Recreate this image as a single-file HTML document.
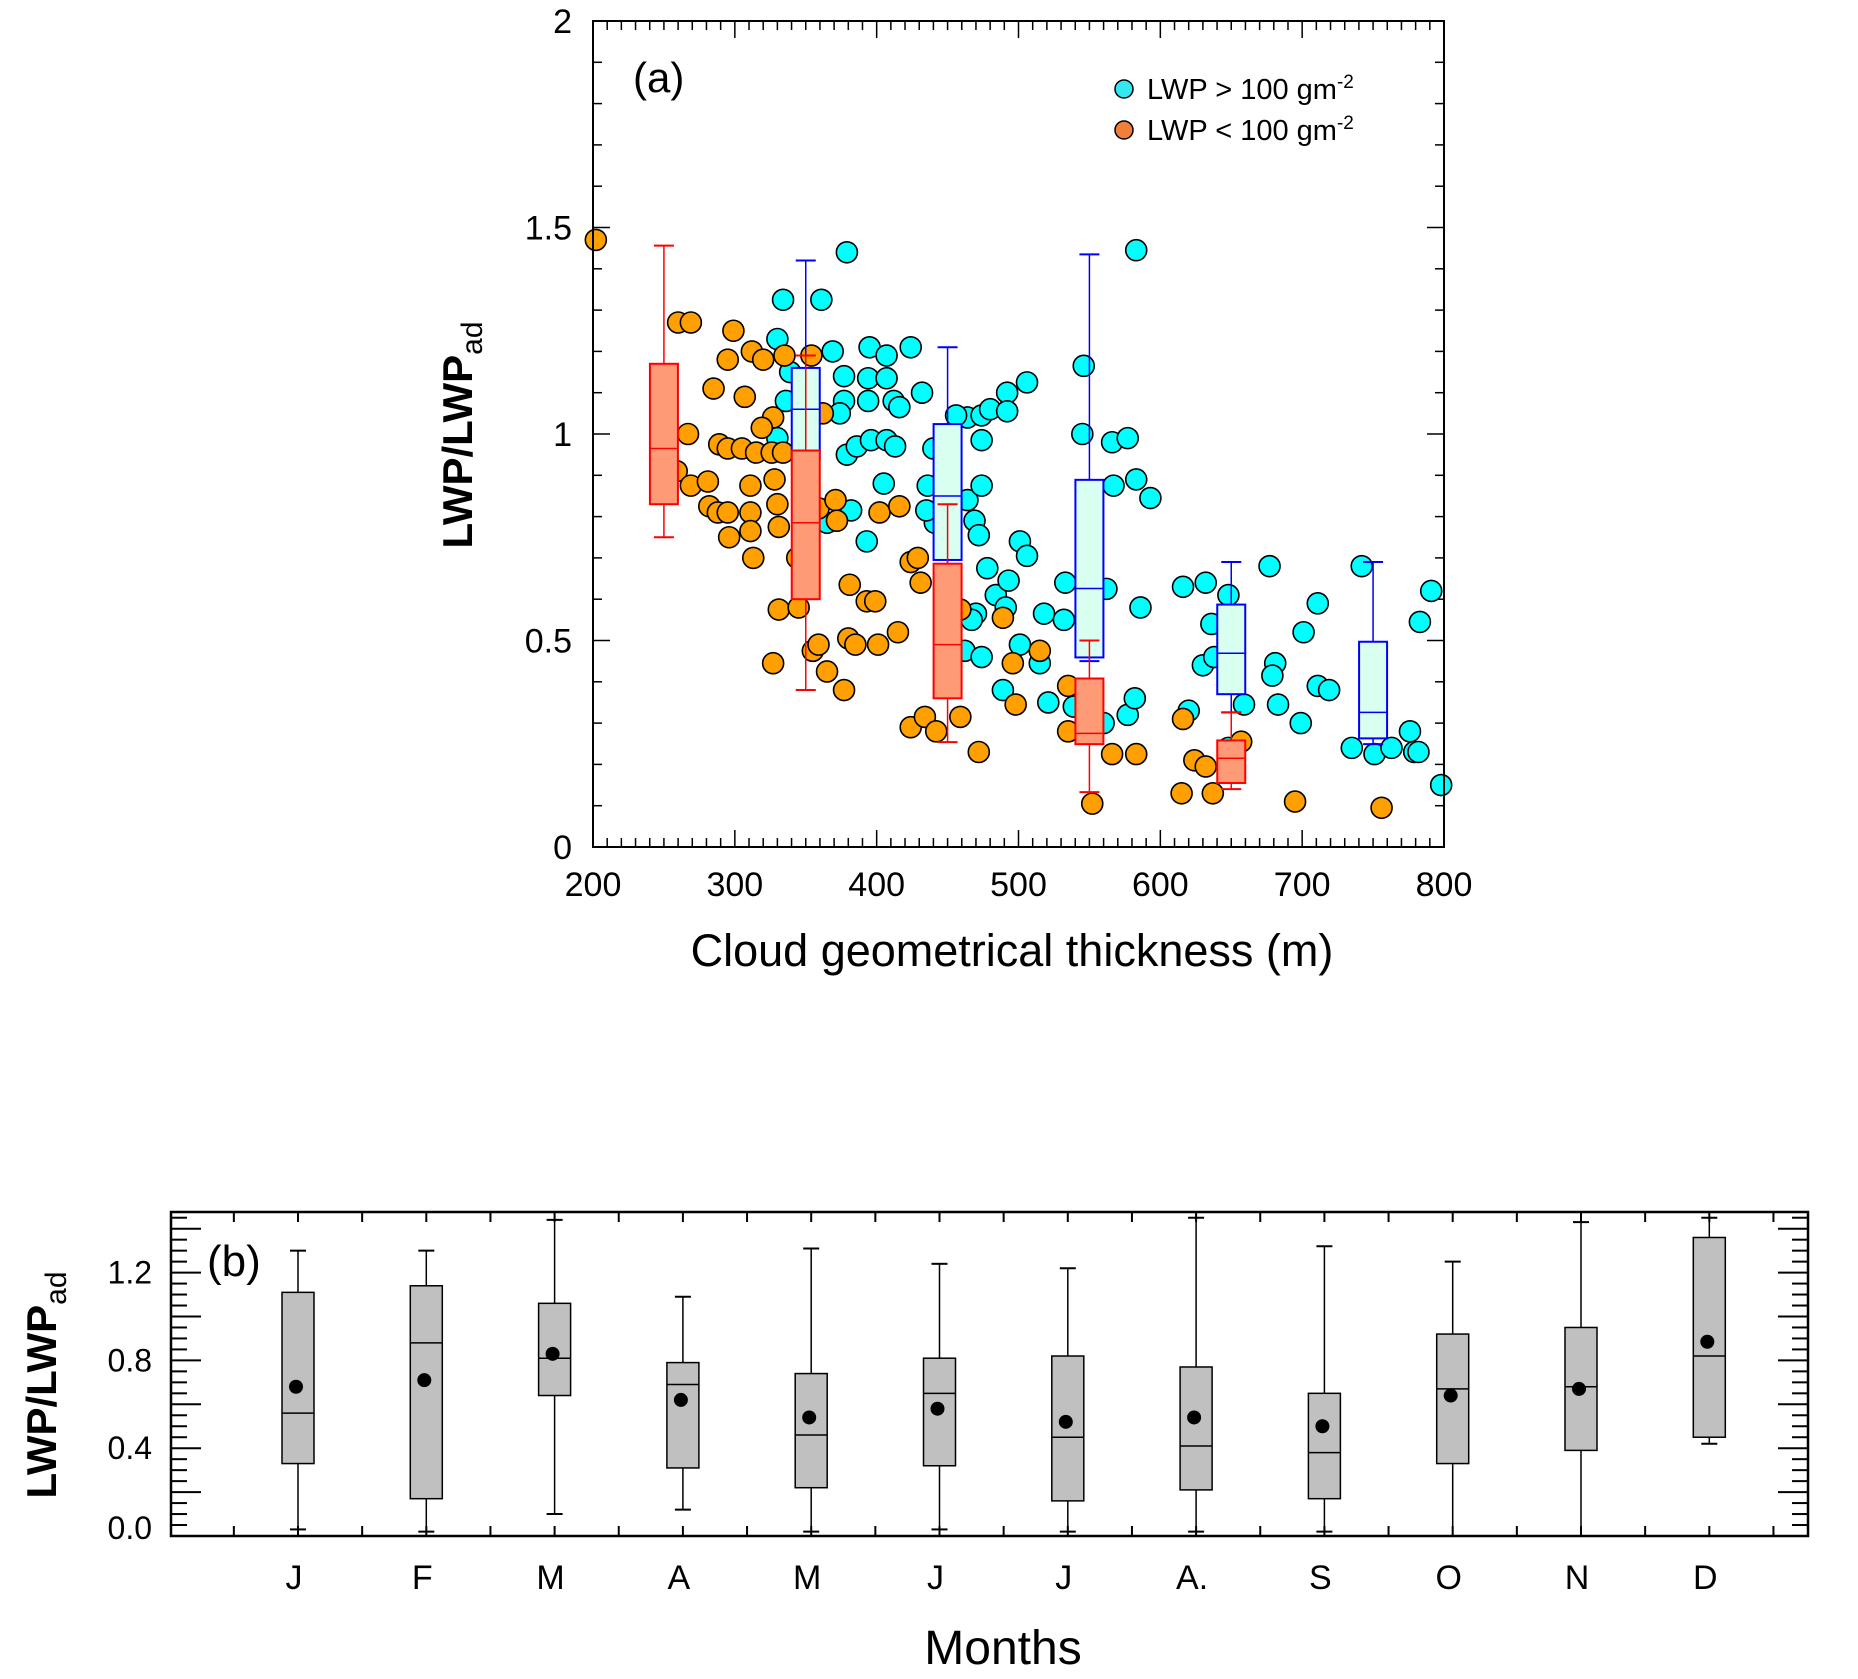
<!DOCTYPE html>
<html><head><meta charset="utf-8"><style>
html,body{margin:0;padding:0;background:#fff;}
svg{display:block;font-family:"Liberation Sans",sans-serif;}
</style></head><body>
<svg id="chart" width="1858" height="1679" viewBox="0 0 1858 1679" xmlns="http://www.w3.org/2000/svg">
<g id="pa"></g>
<g id="pb"></g>
</svg>
<script>
// ---------- Panel (a) data ----------
const cyanX=[334,361,379,330,339,336,369,377,395,407,424,394,407,432,377,394,374,412,416,330,379,386,396,407,413,405,440,382,393,365,474,464,474,480,492,492,506,436,441,435,464,469,474,472,478,484,491,493,501,506,470,462,467,474,501,515,518,532,533,489,521,539,546,545,566,577,567,583,593,583,562,586,560,577,582,616,632,648,636,620,630,638,648,659,677,681,679,683,699,701,711,711,719,742,735,751,763,776,779,782,783,791,798,456];
const cyanY=[1.325,1.325,1.44,1.23,1.15,1.08,1.2,1.14,1.21,1.19,1.21,1.135,1.135,1.10,1.08,1.08,1.05,1.08,1.065,0.99,0.95,0.97,0.985,0.985,0.97,0.88,0.965,0.815,0.74,0.785,0.985,1.04,1.045,1.06,1.10,1.055,1.125,0.875,0.785,0.815,0.84,0.79,0.875,0.755,0.675,0.61,0.58,0.645,0.74,0.705,0.565,0.475,0.55,0.46,0.49,0.445,0.565,0.55,0.64,0.38,0.35,0.34,1.165,1.0,0.98,0.99,0.875,0.89,0.845,1.445,0.625,0.58,0.30,0.32,0.36,0.63,0.64,0.61,0.54,0.33,0.44,0.46,0.24,0.345,0.68,0.445,0.415,0.345,0.30,0.52,0.59,0.39,0.38,0.68,0.24,0.225,0.24,0.28,0.23,0.23,0.545,0.62,0.15,1.045];
const orangeX=[202,260,269,299,285,295,267,259,269,281,289,295,282,288,295,296,305,315,307,312,320,327,319,326,328,330,311,311,311,313,331,331,327,335,334,344,345,354,362,359,371,372,355,359,365,377,381,380,385,393,399,401,402,415,416,424,429,431,424,434,442,459,472,459,489,496,498,515,535,535,552,566,583,615,616,624,632,637,657,695,756];
const orangeY=[1.47,1.27,1.27,1.25,1.11,1.18,1.0,0.91,0.875,0.885,0.975,0.965,0.825,0.81,0.81,0.75,0.965,0.955,1.09,1.2,1.18,1.04,1.015,0.955,0.89,0.83,0.875,0.81,0.765,0.70,0.775,0.575,0.445,1.19,0.955,0.70,0.58,1.19,1.05,0.82,0.84,0.79,0.475,0.49,0.425,0.38,0.635,0.505,0.49,0.595,0.595,0.49,0.81,0.52,0.825,0.69,0.70,0.64,0.29,0.315,0.28,0.315,0.23,0.575,0.555,0.445,0.345,0.475,0.39,0.28,0.105,0.225,0.225,0.13,0.31,0.21,0.195,0.13,0.255,0.11,0.095];
const blueBoxX=[350,450,550,650,750];
const blueLow=[0.80,0.68,0.45,0.326,0.249];
const blueQ1=[0.94,0.695,0.459,0.37,0.263];
const blueMed=[1.06,0.85,0.626,0.469,0.326];
const blueQ3=[1.16,1.024,0.889,0.587,0.497];
const blueHigh=[1.42,1.21,1.435,0.69,0.69];
const redBoxX=[250,350,450,550,650];
const redLow=[0.75,0.38,0.254,0.133,0.14];
const redQ1=[0.83,0.60,0.36,0.249,0.155];
const redMed=[0.965,0.785,0.49,0.275,0.215];
const redQ3=[1.17,0.96,0.686,0.408,0.258];
const redHigh=[1.456,1.19,0.83,0.50,0.326];
const xTicksA=[200,300,400,500,600,700,800];
const yTicksA=[0,0.5,1,1.5,2];
const yTickLabelsA=["0","0.5","1","1.5","2"];

// ---------- Panel (b) data ----------
const months=["J","F","M","A","M","J","J","A.","S","O","N","D"];
const mLow=[0.03,0.02,0.1,0.12,0.02,0.03,0.02,0.02,0.02,0.0,0.0,0.42];
const mQ1=[0.33,0.17,0.64,0.31,0.22,0.32,0.16,0.21,0.17,0.33,0.39,0.45];
const mMed=[0.56,0.88,0.81,0.69,0.46,0.65,0.45,0.41,0.38,0.67,0.68,0.82];
const mQ3=[1.11,1.14,1.06,0.79,0.74,0.81,0.82,0.77,0.65,0.92,0.95,1.36];
const mHigh=[1.30,1.30,1.44,1.09,1.31,1.24,1.22,1.45,1.32,1.25,1.43,1.45];
const mMean=[0.68,0.71,0.83,0.62,0.54,0.58,0.52,0.54,0.50,0.64,0.67,0.885];
const yTicksB=[0,0.4,0.8,1.2];
const yTickLabelsB=["0.0","0.4","0.8","1.2"];

const NS="http://www.w3.org/2000/svg";
function mk(parent,tag,attrs,text){const e=document.createElementNS(NS,tag);for(const k in attrs)e.setAttribute(k,attrs[k]);if(text!==undefined)e.textContent=text;parent.appendChild(e);return e;}

// ---------- Panel (a) ----------
const A={l:593,r:1444,t:21,b:847};
const ax=v=>A.l+(v-200)/600*(A.r-A.l);
const ay=v=>A.b-v/2*(A.b-A.t);
const pa=document.getElementById('pa');
for(let v=200;v<=800;v+=10){const maj=v%100===0;const L=maj?17:9;
 let t=mk(pa,'line',{x1:ax(v),x2:ax(v),y1:A.b,y2:A.b-L,stroke:'#000','stroke-width':1.5});
 
 t=mk(pa,'line',{x1:ax(v),x2:ax(v),y1:A.t,y2:A.t+L,stroke:'#000','stroke-width':1.5});
 }
for(let i=0;i<=20;i++){const v=i/10;const maj=i%5===0;const L=maj?17:9;
 let t=mk(pa,'line',{x1:A.l,x2:A.l+L,y1:ay(v),y2:ay(v),stroke:'#000','stroke-width':1.5});
 
 t=mk(pa,'line',{x1:A.r,x2:A.r-L,y1:ay(v),y2:ay(v),stroke:'#000','stroke-width':1.5});
 }
xTicksA.forEach(v=>{const t=mk(pa,'text',{x:ax(v),y:896,'font-size':34,'text-anchor':'middle'},String(v));
 });
yTicksA.forEach((v,i)=>{const t=mk(pa,'text',{x:572,y:ay(v)+12,'font-size':34,'text-anchor':'end'},yTickLabelsA[i]);
 });
cyanX.forEach((x,i)=>{const c=mk(pa,'circle',{cx:ax(x),cy:ay(cyanY[i]),r:10.5,fill:'#00ffff',stroke:'#000','stroke-width':1.6});
 });
orangeX.forEach((x,i)=>{const c=mk(pa,'circle',{cx:ax(x),cy:ay(orangeY[i]),r:10.5,fill:'#ff9f00',stroke:'#000','stroke-width':1.6});
 });
function boxA(x,lo,q1,md,q3,hi,col,fill,name){
 const g=mk(pa,'g',{});
 const cx=ax(x),w=28;
 mk(g,'line',{x1:cx,x2:cx,y1:ay(hi),y2:ay(lo),stroke:col,'stroke-width':1.5});
 mk(g,'line',{x1:cx-10,x2:cx+10,y1:ay(hi),y2:ay(hi),stroke:col,'stroke-width':2});
 mk(g,'line',{x1:cx-10,x2:cx+10,y1:ay(lo),y2:ay(lo),stroke:col,'stroke-width':2});
 mk(g,'rect',{x:cx-w/2,y:ay(q3),width:w,height:ay(q1)-ay(q3),fill:fill,stroke:col,'stroke-width':2});
 mk(g,'line',{x1:cx-w/2,x2:cx+w/2,y1:ay(md),y2:ay(md),stroke:col,'stroke-width':1.5});
}
blueBoxX.forEach((x,i)=>boxA(x,blueLow[i],blueQ1[i],blueMed[i],blueQ3[i],blueHigh[i],'#0000ff','#d8fff0','blue-box'));
redBoxX.forEach((x,i)=>boxA(x,redLow[i],redQ1[i],redMed[i],redQ3[i],redHigh[i],'#ff0000','#ff9a77','orange-box'));
let fr=mk(pa,'rect',{x:A.l,y:A.t,width:A.r-A.l,height:A.b-A.t,fill:'none',stroke:'#000','stroke-width':2});

let tt=mk(pa,'text',{x:633,y:92,'font-size':42},'(a)');
let lg=mk(pa,'g',{});
let l1=mk(lg,'circle',{cx:1124,cy:89,r:9,fill:'#33e8f0',stroke:'#000','stroke-width':1.5});
let l2=mk(lg,'circle',{cx:1124,cy:130,r:9,fill:'#f07f3a',stroke:'#000','stroke-width':1.5});
let t1=mk(lg,'text',{x:1147,y:99,'font-size':29});t1.innerHTML='LWP &gt; 100 gm<tspan dy="-11" font-size="19">-2</tspan>';
let t2=mk(lg,'text',{x:1147,y:140,'font-size':29});t2.innerHTML='LWP &lt; 100 gm<tspan dy="-11" font-size="19">-2</tspan>';
let xt=mk(pa,'text',{x:1012,y:966,'font-size':45,'text-anchor':'middle'},'Cloud geometrical thickness (m)');
let yt=mk(pa,'text',{x:0,y:0,'font-size':42,'font-weight':'bold','text-anchor':'middle',transform:'translate(472,435) rotate(-90)'});
yt.innerHTML='LWP/LWP<tspan dy="10" font-size="30" font-weight="normal">ad</tspan>';

// ---------- Panel (b) ----------
const B={l:171,r:1808,t:1212,b:1536};
const bx=i=>298+i*128.3;
const by=v=>B.b-v*219.5;
const pb=document.getElementById('pb');
for(let k=-2;k<=24;k++){const x=298+k*64.15;if(x<=B.l+2||x>=B.r-2)continue;
 let t=mk(pb,'line',{x1:x,x2:x,y1:B.b,y2:B.b-10,stroke:'#000','stroke-width':2});
 t=mk(pb,'line',{x1:x,x2:x,y1:B.t,y2:B.t+10,stroke:'#000','stroke-width':2});}
for(let i=1;i<=29;i++){const v=i*0.05;const maj=i%4===0;const L=maj?30:16;
 let t=mk(pb,'line',{x1:B.l,x2:B.l+L,y1:by(v),y2:by(v),stroke:'#000','stroke-width':2});
 t=mk(pb,'line',{x1:B.r,x2:B.r-L,y1:by(v),y2:by(v),stroke:'#000','stroke-width':2});}
yTicksB.forEach((v,i)=>{const t=mk(pb,'text',{x:152,y:by(v)+11-(v===0?8:0),'font-size':32,'text-anchor':'end'},yTickLabelsB[i]);
 });
months.forEach((m,i)=>{const t=mk(pb,'text',{x:bx(i)-4,y:1589,'font-size':34,'text-anchor':'middle'},m);
 
 const g=mk(pb,'g',{});
 const cx=bx(i),w=32;
 mk(g,'line',{x1:cx,x2:cx,y1:by(mHigh[i]),y2:by(mLow[i]),stroke:'#000','stroke-width':1.5});
 mk(g,'line',{x1:cx-8,x2:cx+8,y1:by(mHigh[i]),y2:by(mHigh[i]),stroke:'#000','stroke-width':2});
 mk(g,'line',{x1:cx-8,x2:cx+8,y1:by(mLow[i]),y2:by(mLow[i]),stroke:'#000','stroke-width':2});
 mk(g,'rect',{x:cx-w/2,y:by(mQ3[i]),width:w,height:by(mQ1[i])-by(mQ3[i]),fill:'#c0c0c0',stroke:'#000','stroke-width':1.5});
 mk(g,'line',{x1:cx-w/2,x2:cx+w/2,y1:by(mMed[i]),y2:by(mMed[i]),stroke:'#000','stroke-width':1.5});
 const d=mk(g,'circle',{cx:cx-2,cy:by(mMean[i]),r:7,fill:'#000'});
});
fr=mk(pb,'rect',{x:B.l,y:B.t,width:B.r-B.l,height:B.b-B.t,fill:'none',stroke:'#000','stroke-width':2.5});

tt=mk(pb,'text',{x:207,y:1276,'font-size':44},'(b)');
xt=mk(pb,'text',{x:1003,y:1664,'font-size':48,'text-anchor':'middle'},'Months');
yt=mk(pb,'text',{x:0,y:0,'font-size':42,'font-weight':'bold','text-anchor':'middle',transform:'translate(56,1385) rotate(-90)'});
yt.innerHTML='LWP/LWP<tspan dy="10" font-size="30" font-weight="normal">ad</tspan>';
</script>
</body></html>
